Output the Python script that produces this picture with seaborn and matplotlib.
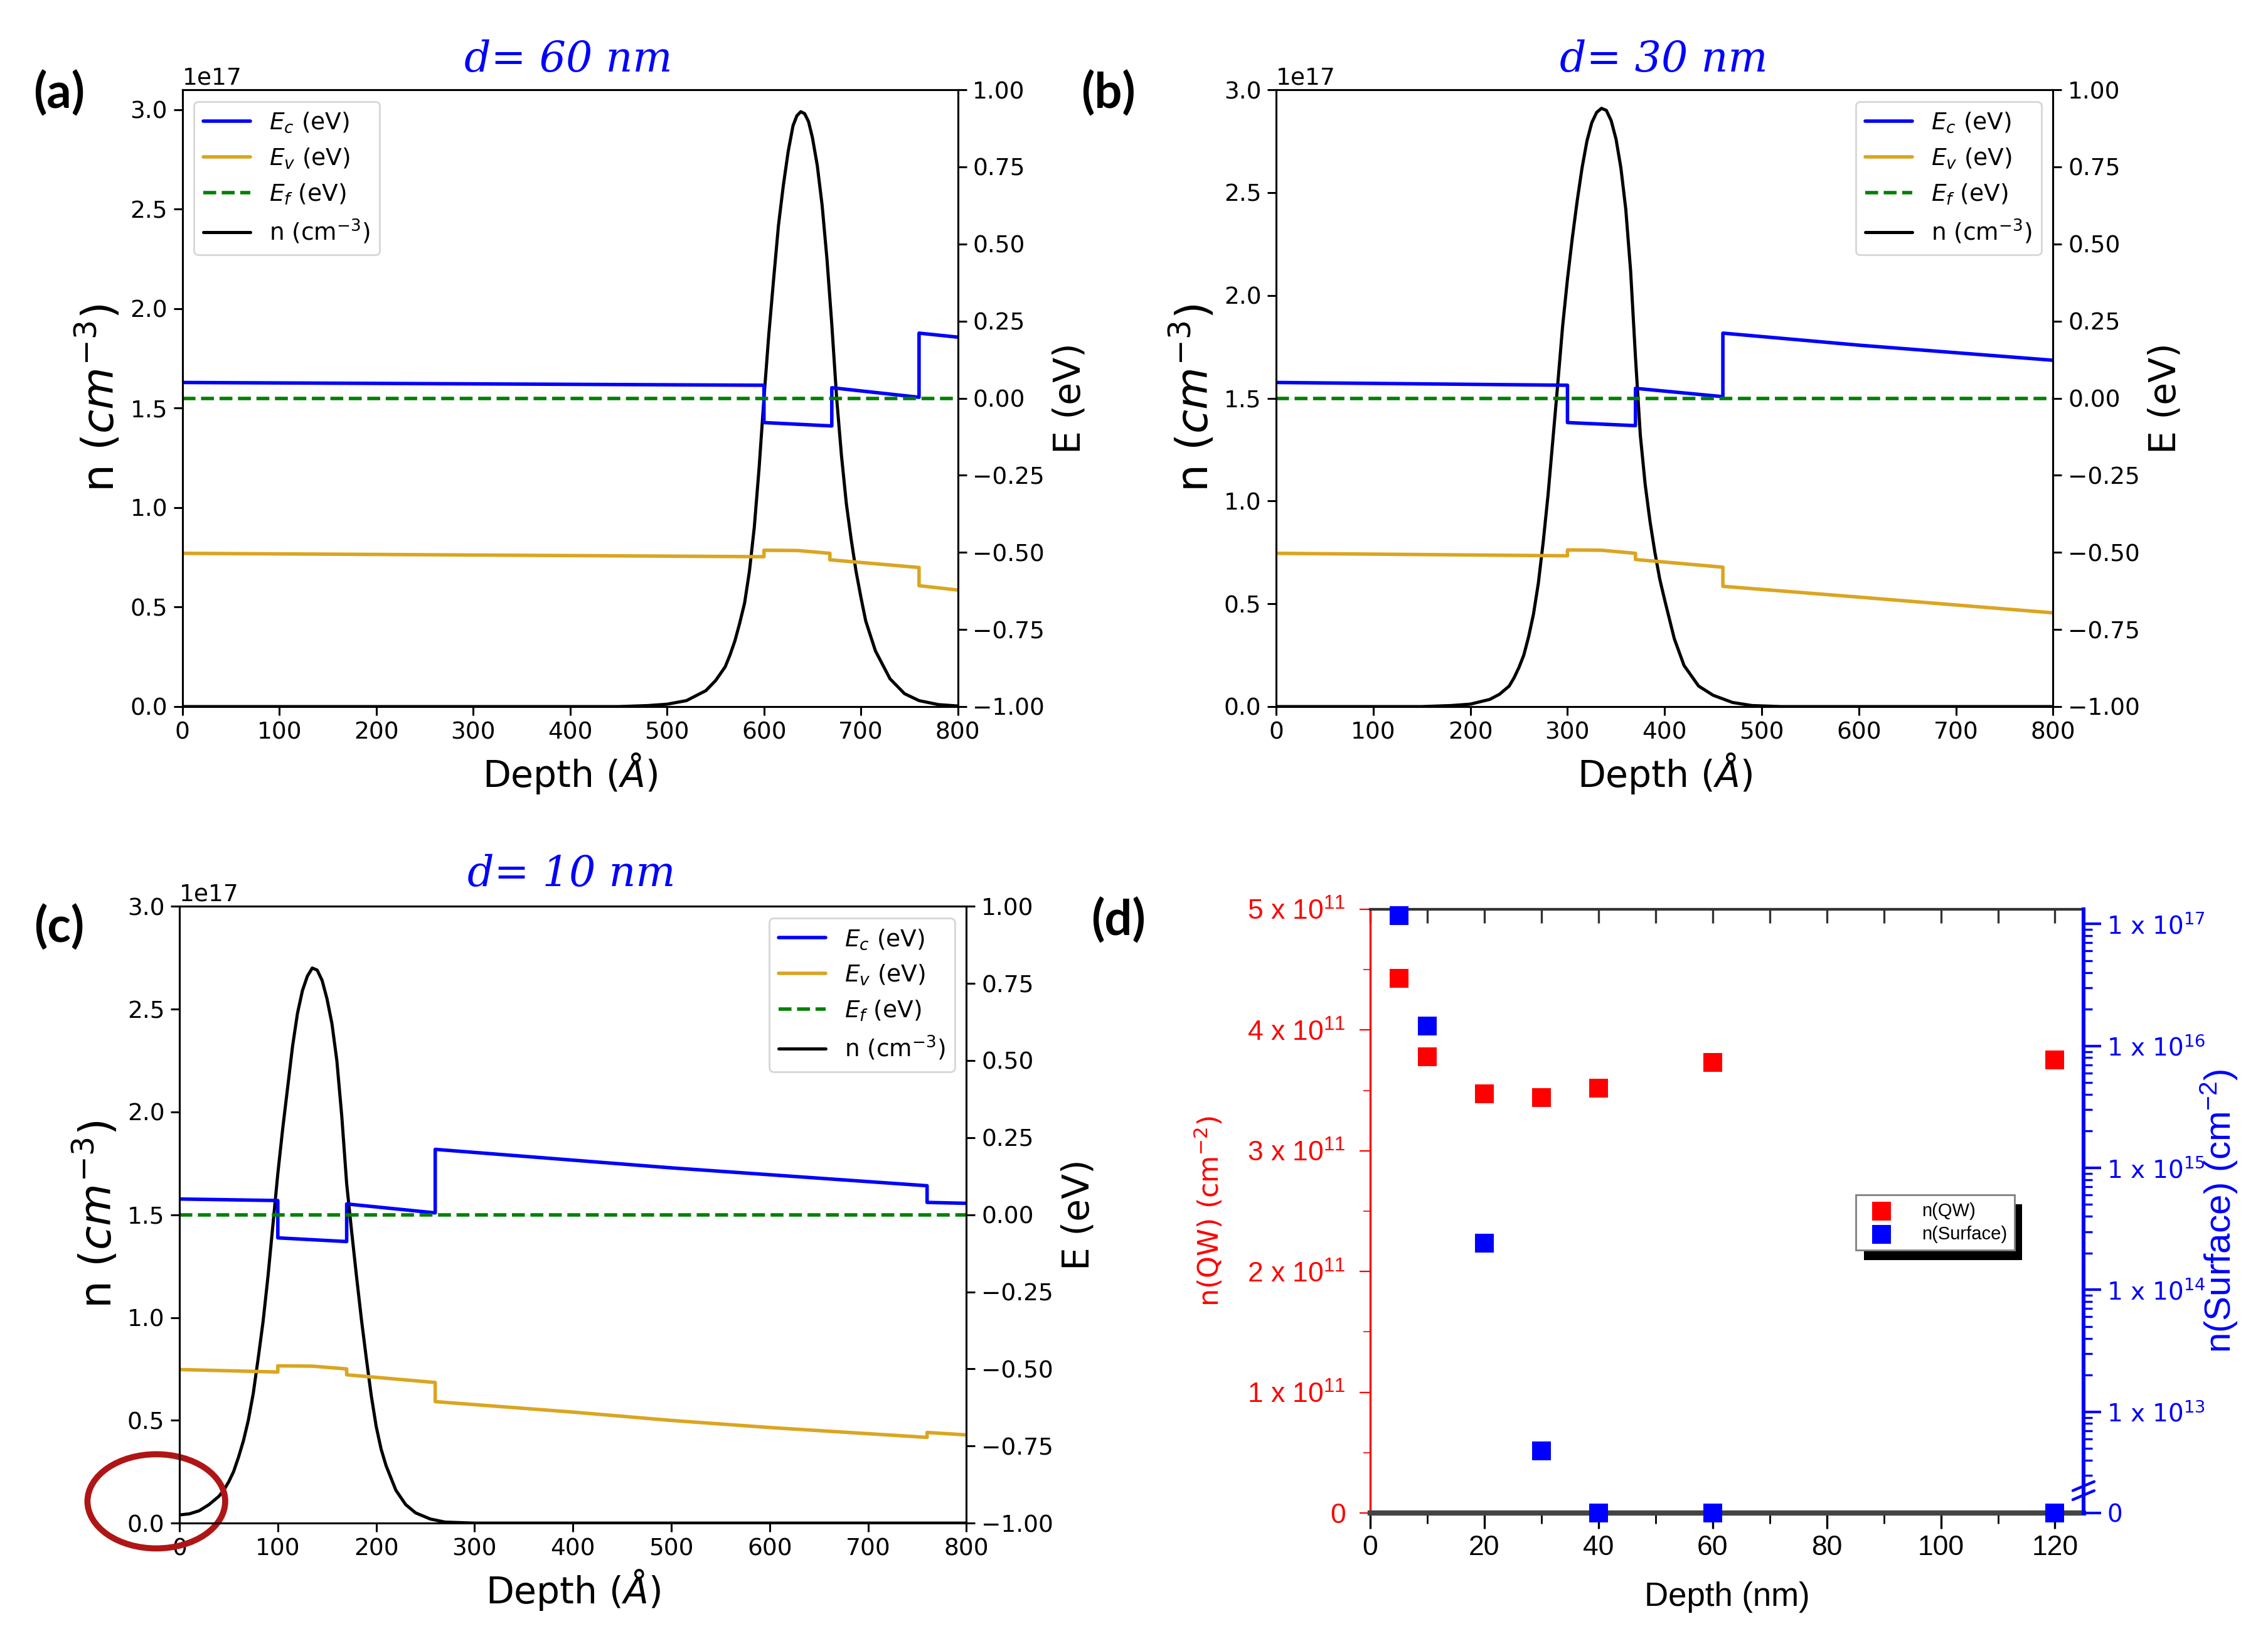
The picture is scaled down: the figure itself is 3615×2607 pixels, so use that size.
import numpy as np
import pandas as pd
import matplotlib
matplotlib.use("Agg")
import matplotlib.pyplot as plt
import matplotlib.patheffects as pe
from matplotlib.patches import Ellipse
from matplotlib.ticker import FixedLocator, MultipleLocator
import seaborn as sns

# ---- data: band diagrams (depth in Angstrom, energies in eV, n in 1e17 cm^-3)
ef_x = [0, 800]
ef = [0.0, 0.0]

# (a) d = 60 nm
ec_a_x = [0, 600, 600, 670, 670, 760, 760, 800]
ec_a = [0.051, 0.042, -0.079, -0.090, 0.034, 0.003, 0.211, 0.198]
ev_a_x = [0, 600, 600, 635, 668, 668, 760, 760, 800]
ev_a = [-0.503, -0.514, -0.493, -0.494, -0.503, -0.524, -0.549, -0.608, -0.622]
n_a_x = [0, 450, 480, 500, 520, 540, 550, 560, 565, 570, 575, 580, 585, 590, 595, 600,
         605, 610, 615, 620, 625, 630, 634, 638, 642, 646, 650, 655, 660, 665, 670, 675,
         680, 685, 690, 695, 700, 705, 715, 730, 745, 760, 780, 800]
n_a = [0.0, 0.0, 0.005, 0.012, 0.03, 0.08, 0.13, 0.20, 0.26, 0.33, 0.42, 0.52, 0.68, 0.90, 1.20, 1.55,
       1.87, 2.15, 2.42, 2.62, 2.79, 2.92, 2.97, 2.99, 2.98, 2.94, 2.86, 2.72, 2.52, 2.25, 1.92, 1.55,
       1.26, 1.02, 0.84, 0.68, 0.55, 0.43, 0.28, 0.14, 0.065, 0.03, 0.01, 0.003]

# (b) d = 30 nm
ec_b_x = [0, 300, 300, 370, 370, 460, 460, 600, 800]
ec_b = [0.051, 0.042, -0.079, -0.089, 0.032, 0.005, 0.211, 0.172, 0.123]
ev_b_x = [0, 300, 300, 335, 370, 370, 460, 460, 600, 800]
ev_b = [-0.503, -0.511, -0.492, -0.493, -0.503, -0.523, -0.548, -0.610, -0.645, -0.696]
n_b_x = [0, 150, 180, 200, 220, 230, 240, 245, 250, 255, 260, 265, 270, 275, 280, 285, 290,
         295, 300, 305, 310, 315, 320, 325, 330, 335, 340, 345, 350, 355, 360, 365, 370,
         375, 380, 385, 390, 395, 400, 410, 420, 435, 450, 470, 490, 520, 800]
n_b = [0.0, 0.0, 0.005, 0.012, 0.035, 0.06, 0.10, 0.14, 0.19, 0.25, 0.34, 0.45, 0.60, 0.80, 1.03,
       1.30, 1.57, 1.85, 2.08, 2.28, 2.46, 2.62, 2.75, 2.84, 2.89, 2.91, 2.90, 2.85, 2.76, 2.62,
       2.42, 2.12, 1.70, 1.32, 1.08, 0.90, 0.75, 0.62, 0.52, 0.33, 0.20, 0.10, 0.055, 0.02, 0.005,
       0.0, 0.0]

# (c) d = 10 nm
ec_c_x = [0, 100, 100, 170, 170, 260, 260, 500, 760, 760, 800]
ec_c = [0.051, 0.046, -0.075, -0.087, 0.035, 0.006, 0.212, 0.152, 0.094, 0.040, 0.037]
ev_c_x = [0, 100, 100, 135, 170, 170, 260, 260, 400, 500, 600, 700, 760, 760, 800]
ev_c = [-0.502, -0.510, -0.490, -0.491, -0.500, -0.519, -0.544, -0.606, -0.640, -0.667,
        -0.690, -0.710, -0.722, -0.706, -0.714]
n_c_x = [0, 10, 20, 30, 40, 45, 50, 55, 60, 65, 70, 75, 80, 85, 90, 95, 100, 105, 110, 115,
         120, 125, 130, 135, 140, 145, 150, 155, 160, 165, 170, 175, 180, 185, 190, 195, 200,
         205, 210, 220, 230, 240, 255, 270, 300, 800]
n_c = [0.04, 0.045, 0.06, 0.09, 0.13, 0.16, 0.20, 0.25, 0.32, 0.40, 0.50, 0.63, 0.80, 0.98,
       1.20, 1.45, 1.70, 1.92, 2.12, 2.32, 2.48, 2.59, 2.66, 2.70, 2.69, 2.64, 2.55, 2.43, 2.25,
       1.98, 1.65, 1.42, 1.20, 0.99, 0.80, 0.62, 0.47, 0.36, 0.28, 0.16, 0.09, 0.05, 0.02,
       0.005, 0.0, 0.0]

# (d) sheet densities vs depth
depth_nm = [5, 10, 20, 30, 40, 60, 120]
n_qw = [4.43, 3.78, 3.47, 3.44, 3.52, 3.73, 3.75]          # x 1e11 cm^-2
n_surface = [1.17e17, 1.45e16, 2.4e14, 4.8e12, 0, 0, 0]   # cm^-2

# ---- style
sns.set_style("ticks")
plt.rcParams["font.family"] = ["DejaVu Sans"]
plt.rcParams["axes.edgecolor"] = "black"
plt.rcParams["text.color"] = "black"
plt.rcParams["axes.labelcolor"] = "black"
plt.rcParams["xtick.color"] = "black"
plt.rcParams["ytick.color"] = "black"
plt.rcParams["axes.linewidth"] = 1.1

TICK = 13.5
XLAB = 21
NLAB = 25
ELAB = 21
EV_COLOR = "#DAA520"

fig = plt.figure(figsize=(18.08, 13.035), dpi=200)


def band_panel(rect, ec_x, ec, ev_x, ev, n_x, n, ntop, loc):
    ax = fig.add_axes(rect)
    ax2 = ax.twinx()
    sns.lineplot(x=n_x, y=[v * 1e17 for v in n], ax=ax, color="black", lw=1.8,
                 estimator=None, sort=False, legend=False)
    sns.lineplot(x=ec_x, y=ec, ax=ax2, color="blue", lw=2, estimator=None, sort=False, legend=False)
    sns.lineplot(x=ev_x, y=ev, ax=ax2, color=EV_COLOR, lw=2, estimator=None, sort=False, legend=False)
    sns.lineplot(x=ef_x, y=ef, ax=ax2, color="green", lw=2, ls="--", estimator=None, sort=False,
                 legend=False)
    ax.set_xlim(0, 800)
    ax.set_ylim(0, ntop * 1e17)
    ax2.set_ylim(-1, 1)
    ax2.set_yticks(np.arange(-1, 1.01, 0.25))
    ax.set_xticks(range(0, 801, 100))
    ax.tick_params(labelsize=TICK, length=5, width=1.1)
    ax2.tick_params(labelsize=TICK, length=5, width=1.1)
    ax.yaxis.get_offset_text().set_fontsize(TICK)
    ax.set_xlabel(r"Depth ($\mathit{Å}$)", fontsize=XLAB)
    ax.set_ylabel(r"n ($cm^{-3}$)", fontsize=NLAB)
    ax2.set_ylabel("E (eV)", fontsize=ELAB)
    handles = [ax2.lines[0], ax2.lines[1], ax2.lines[2], ax.lines[0]]
    labels = [r"$E_c$ (eV)", r"$E_v$ (eV)", r"$E_f$ (eV)", r"n (cm$^{-3}$)"]
    ax2.legend(handles, labels, loc=loc, fontsize=TICK, framealpha=0.8)
    return ax, ax2


ax_a, _ = band_panel([0.0804, 0.5681, 0.3418, 0.3770], ec_a_x, ec_a, ev_a_x, ev_a,
                     n_a_x, n_a, 3.1, "upper left")
ax_b, _ = band_panel([0.5625, 0.5681, 0.3425, 0.3770], ec_b_x, ec_b, ev_b_x, ev_b,
                     n_b_x, n_b, 3.0, "upper right")
ax_c, _ = band_panel([0.0791, 0.0690, 0.3469, 0.3770], ec_c_x, ec_c, ev_c_x, ev_c,
                     n_c_x, n_c, 3.0, "upper right")

# highlight circle at the surface in (c)
ax_c.add_patch(Ellipse((-23.5, 0.106e17), width=140, height=0.458e17, fill=False,
                       ec="#B01515", lw=3.5, clip_on=False, zorder=10))

title_kw = dict(color="blue", family="DejaVu Serif", style="italic", fontsize=24,
                ha="center", va="center")
fig.text(0.2506, 0.9636, "d= 60 nm", **title_kw)
fig.text(0.7334, 0.9636, "d= 30 nm", **title_kw)
fig.text(0.2519, 0.4654, "d= 10 nm", **title_kw)

tag_kw = dict(family="Lato", weight="bold", fontsize=28, ha="center", va="center")
fig.text(0.0261, 0.9425, "(a)", **tag_kw)
fig.text(0.4885, 0.9425, "(b)", **tag_kw)
fig.text(0.0261, 0.4327, "(c)", **tag_kw)
fig.text(0.4930, 0.4372, "(d)", **tag_kw)

# ---- panel (d)
NARROW = ["Liberation Sans Narrow", "Liberation Sans", "DejaVu Sans"]
LOG_BOT = 12.17
LOG_TOP = 17.12


def fwd(v):
    v = np.asarray(v, dtype=float)
    out = np.full(v.shape, LOG_BOT)
    pos = v > 0
    out[pos] = np.maximum(np.log10(v[pos]), LOG_BOT)
    return out


def inv(u):
    return 10.0 ** np.asarray(u, dtype=float)


axd = fig.add_axes([0.6040, 0.0752, 0.3144, 0.3690])
axd2 = axd.twinx()
sns.scatterplot(x=depth_nm, y=[v * 1e11 for v in n_qw], ax=axd, marker="s", color="red",
                s=120, linewidth=0, label="n(QW)", clip_on=False, zorder=5)
sns.scatterplot(x=depth_nm, y=n_surface, ax=axd2, marker="s", color="blue",
                s=120, linewidth=0, label="n(Surface)", clip_on=False, zorder=5)
for a in (axd, axd2):
    if a.get_legend() is not None:
        a.get_legend().remove()

axd.set_xlim(0, 125)
axd.set_ylim(0, 5e11)
axd.set_xticks(range(0, 121, 20))
axd.set_xticklabels([str(v) for v in range(0, 121, 20)], family=NARROW, fontsize=16)
axd.xaxis.set_minor_locator(MultipleLocator(10))
axd.tick_params(axis="x", which="major", length=9, width=1.2, direction="out")
axd.tick_params(axis="x", which="minor", length=6, width=1.0, direction="out")
qw_ticks = [0, 1e11, 2e11, 3e11, 4e11, 5e11]
qw_labels = ["0"] + [f"{k} x 10$\\mathregular{{^{{11}}}}$" for k in range(1, 6)]
axd.set_yticks(qw_ticks)
axd.set_yticklabels(qw_labels, family=NARROW, fontsize=16, color="red")
axd.yaxis.set_minor_locator(MultipleLocator(0.5e11))
axd.tick_params(axis="y", which="both", colors="red", direction="out", pad=8)
axd.tick_params(axis="y", which="major", length=6)
axd.tick_params(axis="y", which="minor", length=4)
axd.set_xlabel("Depth (nm)", family=NARROW, fontsize=19, labelpad=12)
axd.set_ylabel(r"n(QW) (cm$^{-2}$)", color="red", fontsize=16, labelpad=13)

top = axd.secondary_xaxis("top")
top.set_xticks(range(0, 121, 10))
top.tick_params(direction="in", length=8, labeltop=False, width=1.2, colors="#333333")

axd2.set_yscale("function", functions=(fwd, inv))
axd2.set_ylim(0, 10 ** LOG_TOP)
surf_ticks = [0, 1e13, 1e14, 1e15, 1e16, 1e17]
surf_labels = ["0"] + [f"1 x 10$^{{{e}}}$" for e in range(13, 18)]
axd2.yaxis.set_major_locator(FixedLocator(surf_ticks))
axd2.set_yticks(surf_ticks)
axd2.set_yticklabels(surf_labels, fontsize=14, color="blue")
minor = [k * 10.0 ** e for e in range(12, 17) for k in range(2, 10) if k * 10.0 ** e > 2.5e12]
axd2.yaxis.set_minor_locator(FixedLocator(minor))
axd2.tick_params(axis="y", which="both", colors="blue", direction="out")
axd2.tick_params(axis="y", which="major", length=10, width=1.5)
axd2.tick_params(axis="y", which="minor", length=5, width=1.2)
axd2.set_ylabel(r"n(Surface) (cm$\mathregular{^{-2}}$)", color="blue", family=NARROW,
                fontsize=21, labelpad=-4)

axd.spines["left"].set_color("red")
axd.spines["left"].set_linewidth(1.2)
axd.spines["bottom"].set_color("#444444")
axd.spines["bottom"].set_linewidth(3)
axd.spines["top"].set_color("#333333")
axd.spines["top"].set_linewidth(1.5)
axd.spines["right"].set_visible(False)
for s in ("left", "top", "bottom"):
    axd2.spines[s].set_visible(False)
axd2.spines["right"].set_color("blue")
axd2.spines["right"].set_linewidth(2.2)
top.spines["top"].set_color("#333333")
top.spines["top"].set_linewidth(1.5)

# axis break marks on the right axis
for y0 in (0.022, 0.037):
    axd2.plot([0.985, 1.015], [y0, y0 + 0.015], transform=axd2.transAxes, color="blue",
              lw=1.6, clip_on=False, zorder=6)

h1, l1 = axd.get_legend_handles_labels()
h2, l2 = axd2.get_legend_handles_labels()
leg = axd2.legend(h1 + h2, l1 + l2, loc="upper left", bbox_to_anchor=(0.668, 0.542),
                  fancybox=False, framealpha=1, edgecolor="gray",
                  prop={"family": "Liberation Sans", "size": 10.5},
                  handletextpad=1.2, borderpad=0.4, labelspacing=0.3)
leg.get_frame().set_linewidth(1.0)
leg.get_frame().set_path_effects([pe.withSimplePatchShadow(offset=(4.5, -5.5),
                                                           shadow_rgbFace="black", alpha=1.0)])

fig.savefig("out.png", dpi=200)
